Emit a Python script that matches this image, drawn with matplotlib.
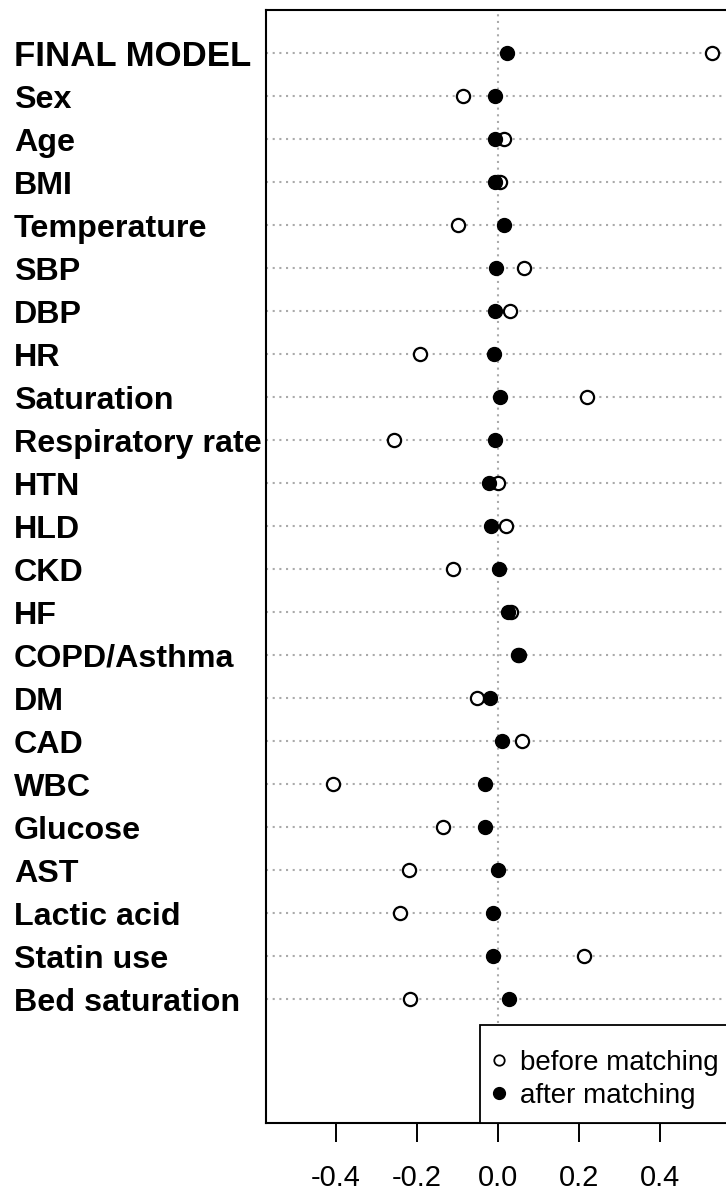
import matplotlib.pyplot as plt
from matplotlib.lines import Line2D
from matplotlib.patches import Rectangle

labels = ['FINAL MODEL', 'Sex', 'Age', 'BMI', 'Temperature', 'SBP', 'DBP', 'HR',
          'Saturation', 'Respiratory rate', 'HTN', 'HLD', 'CKD', 'HF', 'COPD/Asthma',
          'DM', 'CAD', 'WBC', 'Glucose', 'AST', 'Lactic acid', 'Statin use', 'Bed saturation']
before = [0.527, -0.087, 0.016, 0.006, -0.099, 0.063, 0.029, -0.193,
          0.220, -0.257, -0.001, 0.020, -0.112, 0.033, 0.050,
          -0.052, 0.059, -0.406, -0.136, -0.220, -0.242, 0.213, -0.216]
after = [0.022, -0.007, -0.007, -0.007, 0.016, -0.005, -0.007, -0.011,
         0.006, -0.007, -0.023, -0.017, 0.002, 0.025, 0.051,
         -0.019, 0.011, -0.031, -0.031, -0.001, -0.012, -0.012, 0.028]
xticks = [-0.4, -0.2, 0.0, 0.2, 0.4]

plt.rcParams['font.family'] = ['Liberation Sans', 'DejaVu Sans']

n = len(labels)
ypos = [n - 1 - i for i in range(n)]

fig = plt.figure(figsize=(7.26, 11.93), dpi=100)
ax = fig.add_axes([266 / 726, 1 - 1123 / 1193, 464 / 726, 1113 / 1193])

dots = (0, (1, 2.2))
for y in ypos:
    ax.axhline(y, color='#aaaaaa', lw=1.5, ls=dots, zorder=1)
ax.axvline(0, color='#aaaaaa', lw=1.5, ls=dots, zorder=1)

ax.plot(before, ypos, 'o', ms=9.5, mfc='white', mec='black', mew=1.6, ls='none', zorder=3)
ax.plot(after, ypos, 'o', ms=10, mfc='black', mec='black', mew=1.0, ls='none', zorder=4)

ax.set_xlim(-0.572, 0.572)
ax.set_ylim(-2.88, n)

ax.set_yticks(ypos)
ax.set_yticklabels(labels, fontsize=23.2, fontweight='bold')
for t in ax.get_yticklabels():
    t.set_horizontalalignment('left')
ax.get_yticklabels()[0].set_fontsize(25)
ax.tick_params(axis='y', length=0, pad=181.4)

ax.set_xticks(xticks)
ax.set_xticklabels(['%.1f' % v for v in xticks], fontsize=21)
ax.tick_params(axis='x', length=13.7, width=1.4, pad=15.5)

for s in ax.spines.values():
    s.set_linewidth(1.5)

# legend frame (box runs off the right edge like the reference)
box = Rectangle((0.461, 0.0), 0.7, 0.088, transform=ax.transAxes,
                facecolor='white', edgecolor='black', lw=1.3, zorder=5)
ax.add_patch(box)

handles = [Line2D([], [], marker='o', ls='none', ms=7.5, mfc='white', mec='black', mew=1.3),
           Line2D([], [], marker='o', ls='none', ms=8.5, mfc='black', mec='black')]
leg = ax.legend(handles, ['before matching', 'after matching'], loc='center left',
                bbox_to_anchor=(0.4845, 0.0395), borderaxespad=0, borderpad=0,
                fontsize=20, frameon=False,
                handlelength=0.6, handletextpad=0.45, labelspacing=0.25)
leg.set_zorder(6)

fig.savefig('out.png', dpi=100)
